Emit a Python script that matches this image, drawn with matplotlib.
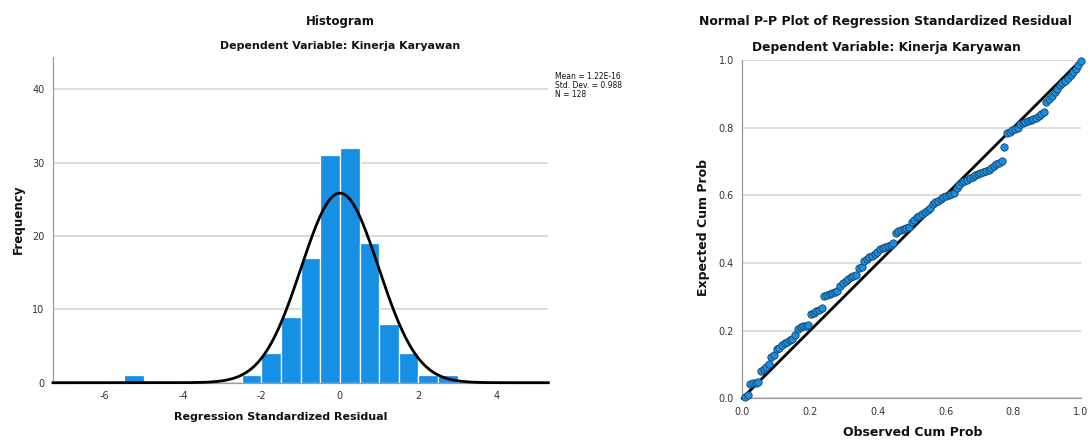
"""SPSS-style regression diagnostics: residual histogram and normal P-P plot."""
import matplotlib
matplotlib.use("Agg")
import matplotlib.pyplot as plt
import matplotlib.ticker as mticker
import numpy as np

BLUE, EDGE = "#1690e4", "#1d3f5e"
INK, TICK, GRID, SPINE = "#111111", "#333333", "#d6d6d6", "#9a9a9a"

plt.rcParams.update({
    "font.family": ["DejaVu Sans"],
    "axes.linewidth": 0.9,
    "axes.unicode_minus": False,
    "xtick.color": TICK, "ytick.color": TICK,
    "xtick.labelsize": 7, "ytick.labelsize": 7,
})

# histogram of standardized residuals (bin width 0.5)
BIN_LEFT = [-5.5, -5.0, -4.5, -4.0, -3.5, -3.0, -2.5, -2.0, -1.5,
            -1.0, -0.5, 0.0, 0.5, 1.0, 1.5, 2.0, 2.5]
COUNTS = [1, 0, 0, 0, 0, 0, 1, 4, 9, 17, 31, 32, 19, 8, 4, 1, 1]
BIN_WIDTH = 0.5
MEAN, SD, N = 1.22e-16, 0.988, 128
HIST_XTICKS = [-6, -4, -2, 0, 2, 4]
HIST_YTICKS = [0, 10, 20, 30, 40]

# P-P plot: observed vs expected cumulative probability
OBSERVED = [
    0.008, 0.016, 0.023, 0.031, 0.039, 0.047, 0.055, 0.063,
    0.070, 0.078, 0.086, 0.094, 0.102, 0.109, 0.117, 0.125,
    0.133, 0.141, 0.148, 0.156, 0.164, 0.172, 0.180, 0.188,
    0.195, 0.203, 0.211, 0.219, 0.227, 0.234, 0.242, 0.250,
    0.258, 0.266, 0.273, 0.281, 0.289, 0.297, 0.305, 0.313,
    0.320, 0.328, 0.336, 0.344, 0.352, 0.359, 0.367, 0.375,
    0.383, 0.391, 0.398, 0.406, 0.414, 0.422, 0.430, 0.438,
    0.445, 0.453, 0.461, 0.469, 0.477, 0.484, 0.492, 0.500,
    0.508, 0.516, 0.523, 0.531, 0.539, 0.547, 0.555, 0.563,
    0.570, 0.578, 0.586, 0.594, 0.602, 0.609, 0.617, 0.625,
    0.633, 0.641, 0.648, 0.656, 0.664, 0.672, 0.680, 0.688,
    0.695, 0.703, 0.711, 0.719, 0.727, 0.734, 0.742, 0.750,
    0.758, 0.766, 0.773, 0.781, 0.789, 0.797, 0.805, 0.813,
    0.820, 0.828, 0.836, 0.844, 0.852, 0.859, 0.867, 0.875,
    0.883, 0.891, 0.898, 0.906, 0.914, 0.922, 0.930, 0.938,
    0.945, 0.953, 0.961, 0.969, 0.977, 0.984, 0.992, 1.000,
]
EXPECTED = [
    0.003, 0.010, 0.042, 0.044, 0.046, 0.048, 0.080, 0.088,
    0.093, 0.100, 0.122, 0.127, 0.147, 0.150, 0.158, 0.162,
    0.165, 0.172, 0.176, 0.188, 0.206, 0.210, 0.213, 0.215,
    0.217, 0.250, 0.252, 0.258, 0.262, 0.268, 0.302, 0.305,
    0.308, 0.312, 0.315, 0.318, 0.333, 0.340, 0.347, 0.352,
    0.358, 0.362, 0.364, 0.384, 0.388, 0.405, 0.413, 0.418,
    0.422, 0.428, 0.433, 0.440, 0.443, 0.447, 0.450, 0.453,
    0.460, 0.490, 0.494, 0.498, 0.500, 0.502, 0.505, 0.520,
    0.526, 0.535, 0.540, 0.545, 0.552, 0.556, 0.562, 0.575,
    0.580, 0.582, 0.590, 0.594, 0.598, 0.601, 0.604, 0.607,
    0.622, 0.630, 0.640, 0.643, 0.645, 0.650, 0.655, 0.660,
    0.662, 0.665, 0.668, 0.672, 0.676, 0.680, 0.688, 0.694,
    0.697, 0.702, 0.744, 0.783, 0.788, 0.792, 0.796, 0.798,
    0.810, 0.815, 0.818, 0.820, 0.823, 0.826, 0.830, 0.834,
    0.840, 0.846, 0.875, 0.885, 0.893, 0.905, 0.915, 0.925,
    0.932, 0.938, 0.948, 0.955, 0.965, 0.972, 0.985, 0.998,
]
PP_TICKS = [0.0, 0.2, 0.4, 0.6, 0.8, 1.0]

W, H = 1090, 442
fig = plt.figure(figsize=(W / 100, H / 100), dpi=100)
fig.patch.set_facecolor("white")


def px(x, y):
    return x / W, 1 - y / H


def style_axes(ax):
    for s in ("top", "right"):
        ax.spines[s].set_visible(False)
    for s in ("left", "bottom"):
        ax.spines[s].set_color(SPINE)
    ax.tick_params(length=0, pad=6)
    ax.set_axisbelow(True)
    ax.grid(axis="y", color=GRID, lw=1.2)


# --- histogram ---
ax1 = fig.add_axes([53 / W, 1 - 382.7 / H, (548.3 - 53) / W, (382.7 - 57.3) / H])
style_axes(ax1)
ax1.bar(BIN_LEFT, COUNTS, width=BIN_WIDTH, align="edge", color=BLUE,
        edgecolor="white", linewidth=0.9, zorder=2)
xlo, xhi = -7.31, 5.31
xs = np.linspace(xlo, xhi, 600)
curve = N * BIN_WIDTH * np.exp(-0.5 * ((xs - MEAN) / SD) ** 2) / (SD * np.sqrt(2 * np.pi))
ax1.plot(xs, curve, color="black", lw=2.0, zorder=3, clip_on=False)
ax1.set_xlim(xlo, xhi)
ax1.set_ylim(0, 44.36)
ax1.set_xticks(HIST_XTICKS)
ax1.set_yticks(HIST_YTICKS)

fig.text(*px(340, 21), "Histogram", ha="center", va="center",
         fontsize=8.5, fontweight="bold", color=INK)
fig.text(*px(340.5, 46), "Dependent Variable: Kinerja Karyawan", ha="center",
         va="center", fontsize=7.9, fontweight="bold", color=INK)
fig.text(*px(18, 219), "Frequency", rotation=90, ha="center", va="center",
         fontsize=8.6, fontweight="bold", color=INK)
fig.text(*px(281, 417), "Regression Standardized Residual", ha="center",
         va="center", fontsize=8.0, fontweight="bold", color=INK)
fig.text(*px(555, 72), "Mean = %.2E\nStd. Dev. = %.3f\nN = %d"
         % (MEAN, SD, N), ha="left", va="top", fontsize=5.5, color=INK,
         linespacing=1.0)

# --- P-P plot ---
ax2 = fig.add_axes([742.3 / W, 1 - 398.3 / H, (1081 - 742.3) / W, (398.3 - 60) / H])
style_axes(ax2)
ax2.plot([0, 1], [0, 1], color="black", lw=2.0, zorder=3, clip_on=False)
ax2.scatter(OBSERVED, EXPECTED, s=28, color=BLUE, edgecolor=EDGE,
            linewidth=0.6, zorder=4, clip_on=False)
ax2.set_xlim(0, 1)
ax2.set_ylim(0, 1)
ax2.set_xticks(PP_TICKS)
ax2.set_yticks(PP_TICKS)
ax2.xaxis.set_major_formatter(mticker.FormatStrFormatter("%.1f"))
ax2.yaxis.set_major_formatter(mticker.FormatStrFormatter("%.1f"))

fig.text(*px(885.5, 22), "Normal P-P Plot of Regression Standardized Residual",
         ha="center", va="center", fontsize=9.0, fontweight="bold", color=INK)
fig.text(*px(886, 48), "Dependent Variable: Kinerja Karyawan", ha="center",
         va="center", fontsize=8.8, fontweight="bold", color=INK)
fig.text(*px(703, 228), "Expected Cum Prob", rotation=90, ha="center",
         va="center", fontsize=9.0, fontweight="bold", color=INK)
fig.text(*px(912.5, 433), "Observed Cum Prob", ha="center", va="center",
         fontsize=9.0, fontweight="bold", color=INK)

fig.savefig("out.png", dpi=100, facecolor="white")
